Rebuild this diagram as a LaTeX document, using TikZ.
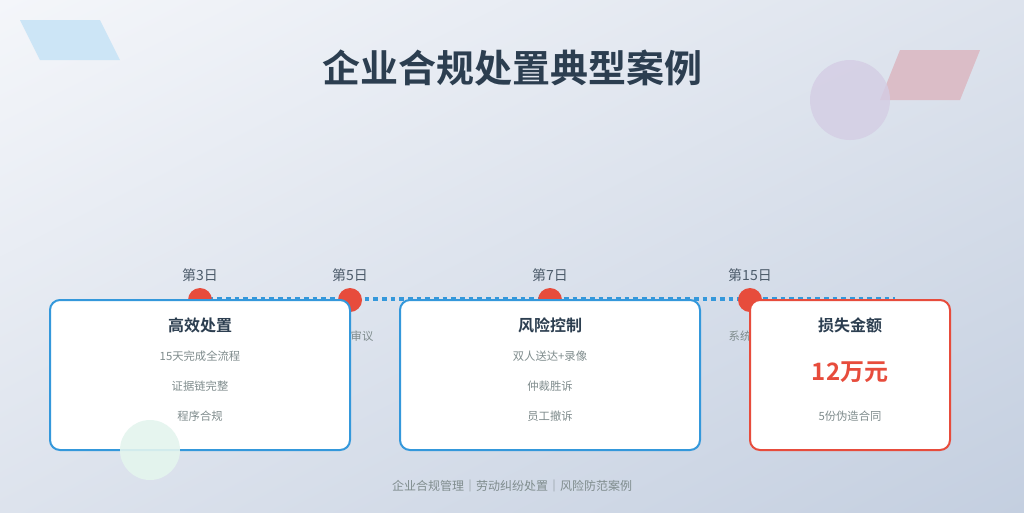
\documentclass[tikz,border=0pt]{standalone}
\usepackage{fontspec}
\usetikzlibrary{shadings}
\setmainfont{Noto Sans CJK SC}
\newfontfamily\cjkb{Noto Sans CJK SC Bold}
\definecolor{bgA}{HTML}{F4F6FA}
\definecolor{bgM}{HTML}{DDE3ED}
\definecolor{bgB}{HTML}{C4CFE0}
\definecolor{navy}{HTML}{2C3E50}
\definecolor{blueE}{HTML}{3498DB}
\definecolor{redE}{HTML}{E74C3C}
\definecolor{grayT}{HTML}{7F8C8D}
\definecolor{pinkD}{HTML}{DBBDC7}
\definecolor{purpD}{HTML}{D4CDE4}
\definecolor{grnD}{HTML}{E4F5EE}
\begin{document}
\begin{tikzpicture}[x=0.75pt,y=-0.75pt,
  card/.style={draw=blueE,line width=1.5pt,fill=white,rounded corners=7.5pt},
  dot/.style={circle,fill=redE,minimum size=18pt,inner sep=0pt},
  day/.style={font=\fontsize{10.5}{12}\selectfont,text=navy!85},
  ttl/.style={font=\cjkb\fontsize{12}{14}\selectfont,text=navy},
  item/.style={font=\fontsize{8.5}{10}\selectfont,text=grayT}]
\shade[upper left=bgA,upper right=bgM,lower left=bgM,lower right=bgB] (0,0) rectangle (1024,512);
\useasboundingbox (0,0) rectangle (1024,512);
\fill[blueE!25] (20,20) -- (100,20) -- (120,60) -- (40,60) -- cycle;
\fill[pinkD] (900,50) -- (980,50) -- (960,100) -- (880,100) -- cycle;
\fill[purpD,opacity=0.8] (850,100) circle (40);
\node (title) at (512,68) {\cjkb\fontsize{28.5}{34}\selectfont\color{navy}企业合规处置典型案例};
\draw[blueE,line width=3pt,dash pattern=on 3.5pt off 3pt] (200,299) coordinate (ls) -- (895,299) coordinate (le);
\foreach \x/\n/\t in {200/a/第3日,350/b/第5日,550/c/第7日,750/d/第15日}{
  \node[dot] (\n) at (\x,300) {};
  \node[day] (\n t) at (\x,275) {\t};}
\node[item] (h1) at (362,336) {审议};
\node[item] (h2) at (740,336) {系统};
\draw[card] (50,300) rectangle (350,450);
\draw[card] (400,300) rectangle (700,450);
\draw[card,draw=redE] (750,300) rectangle (950,450);
\fill[grnD,opacity=0.9] (150,450) circle (30);
\node[ttl] (c1) at (200,325) {高效处置};
\node[item] (c1a) at (200,356) {15天完成全流程};
\node[item] (c1b) at (200,386) {证据链完整};
\node[item] (c1c) at (200,416) {程序合规};
\node[ttl] (c2) at (550,325) {风险控制};
\node[item] (c2a) at (550,356) {双人送达+录像};
\node[item] (c2b) at (550,386) {仲裁胜诉};
\node[item] (c2c) at (550,416) {员工撤诉};
\node[ttl] (c3) at (850,325) {损失金额};
\node (c3a) at (850,372) {\cjkb\fontsize{18}{20}\selectfont\color{redE}12万元};
\node[item] (c3b) at (850,416) {5份伪造合同};
\node[item,font=\fontsize{9}{11}\selectfont] (foot) at (512,486) {企业合规管理｜劳动纠纷处置｜风险防范案例};
\end{tikzpicture}
\end{document}
